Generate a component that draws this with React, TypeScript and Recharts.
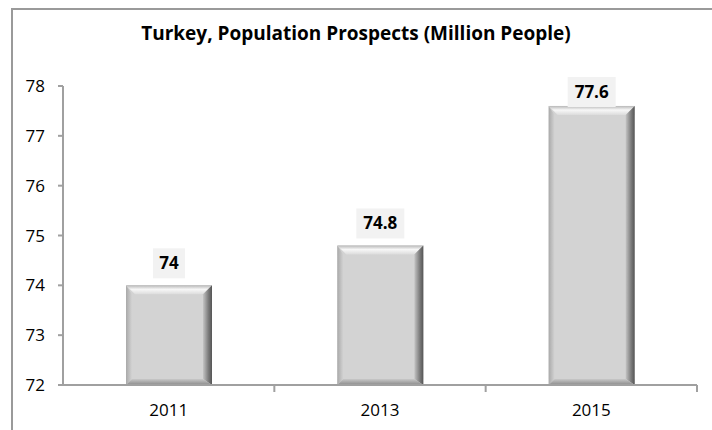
import React from 'react';
import { BarChart, Bar, XAxis, YAxis, LabelList } from 'recharts';

const years = ['2011', '2013', '2015'];
const population = [74, 74.8, 77.6];
const yTicks = [72, 73, 74, 75, 76, 77, 78];

const data = years.map((year, i) => ({ year, population: population[i] }));

const FONT = "'Open Sans', 'Noto Sans', sans-serif";

const BevelBar = (props: any) => {
  const { x, y, width, height } = props;
  if (!height || height <= 0) return null;
  const b = 9; // bevel size
  const r = x + width;
  const btm = y + height;
  return (
    <g>
      <rect x={x} y={y} width={width} height={height} fill="#d3d3d3" />
      {/* top */}
      <polygon points={`${x},${y} ${r},${y} ${r - b},${y + b} ${x + b},${y + b}`} fill="url(#bevTop)" />
      {/* left */}
      <polygon points={`${x},${y} ${x + b - 3},${y + b} ${x + b - 3},${btm - 6} ${x},${btm}`} fill="url(#bevLeft)" />
      {/* right */}
      <polygon points={`${r},${y} ${r - b},${y + b} ${r - b},${btm - 6} ${r},${btm}`} fill="url(#bevRight)" />
      {/* bottom */}
      <polygon points={`${x},${btm} ${x + b - 3},${btm - 6} ${r - b},${btm - 6} ${r},${btm}`} fill="url(#bevBottom)" />
    </g>
  );
};

const ValueLabel = (props: any) => {
  const { x, y, width, value } = props;
  const text = String(value);
  const w = text.length * 8 + 16;
  const cx = x + width / 2;
  const top = Math.max(y - 37, 77);
  return (
    <g>
      <rect x={cx - w / 2} y={top} width={w} height={30} fill="#f2f2f2" />
      <text x={cx} y={top + 21} textAnchor="middle" fontFamily={FONT} fontWeight={700} fontSize={17} fill="#000">
        {text}
      </text>
    </g>
  );
};

const YearTick = (props: any) => {
  const { x, y, payload, width, visibleTicksCount } = props;
  const band = width / visibleTicksCount;
  return (
    <g>
      <line x1={x + band / 2} y1={385} x2={x + band / 2} y2={392} stroke="#a0a0a0" strokeWidth={2} />
      <text x={x} y={y + 23} textAnchor="middle" fontFamily={FONT} fontSize={17} fill="#000">
        {payload.value}
      </text>
    </g>
  );
};

export default function App() {
  return (
    <div style={{ position: 'fixed', left: 0, top: 0, width: 712, height: 430, background: '#fff' }}>
      <div
        style={{
          position: 'absolute',
          left: 11,
          top: 8,
          width: 720,
          height: 440,
          borderLeft: '2px solid #9a9a9a',
          borderTop: '2px solid #9a9a9a',
        }}
      />
      <div
        style={{
          position: 'absolute',
          top: 20,
          width: 712,
          textAlign: 'center',
          fontFamily: FONT,
          fontWeight: 700,
          fontSize: 19,
          color: '#000',
        }}
      >
        Turkey, Population Prospects (Million People)
      </div>
      <div style={{ position: 'absolute', left: 0, top: 0 }}>
        <BarChart width={712} height={430} data={data} margin={{ top: 86, right: 15, bottom: 0, left: 0 }}>
          <defs>
            <linearGradient id="bevTop" x1="0" y1="0" x2="0" y2="1">
              <stop offset="0%" stopColor="#b8b8b8" />
              <stop offset="45%" stopColor="#f7f7f7" />
              <stop offset="100%" stopColor="#dcdcdc" />
            </linearGradient>
            <linearGradient id="bevLeft" x1="0" y1="0" x2="1" y2="0">
              <stop offset="0%" stopColor="#a9a9a9" />
              <stop offset="100%" stopColor="#d3d3d3" />
            </linearGradient>
            <linearGradient id="bevRight" x1="0" y1="0" x2="1" y2="0">
              <stop offset="0%" stopColor="#c4c4c4" />
              <stop offset="60%" stopColor="#7c7c7c" />
              <stop offset="100%" stopColor="#555" />
            </linearGradient>
            <linearGradient id="bevBottom" x1="0" y1="0" x2="0" y2="1">
              <stop offset="0%" stopColor="#c8c8c8" />
              <stop offset="100%" stopColor="#8a8a8a" />
            </linearGradient>
          </defs>
          <XAxis
            dataKey="year"
            height={45}
            axisLine={{ stroke: '#a0a0a0', strokeWidth: 2 }}
            tickLine={false}
            tick={<YearTick />}
            interval={0}
          />
          <YAxis
            domain={[72, 78]}
            ticks={yTicks}
            width={63}
            interval={0}
            allowDataOverflow
            axisLine={{ stroke: '#a0a0a0', strokeWidth: 2 }}
            tickLine={{ stroke: '#a0a0a0', strokeWidth: 2 }}
            tickSize={5}
            tickMargin={13}
            tick={{ fill: '#000', fontSize: 17, fontFamily: FONT }}
          />
          <Bar dataKey="population" barSize={86} shape={<BevelBar />} isAnimationActive={false}>
            <LabelList dataKey="population" content={<ValueLabel />} />
          </Bar>
        </BarChart>
      </div>
    </div>
  );
}
